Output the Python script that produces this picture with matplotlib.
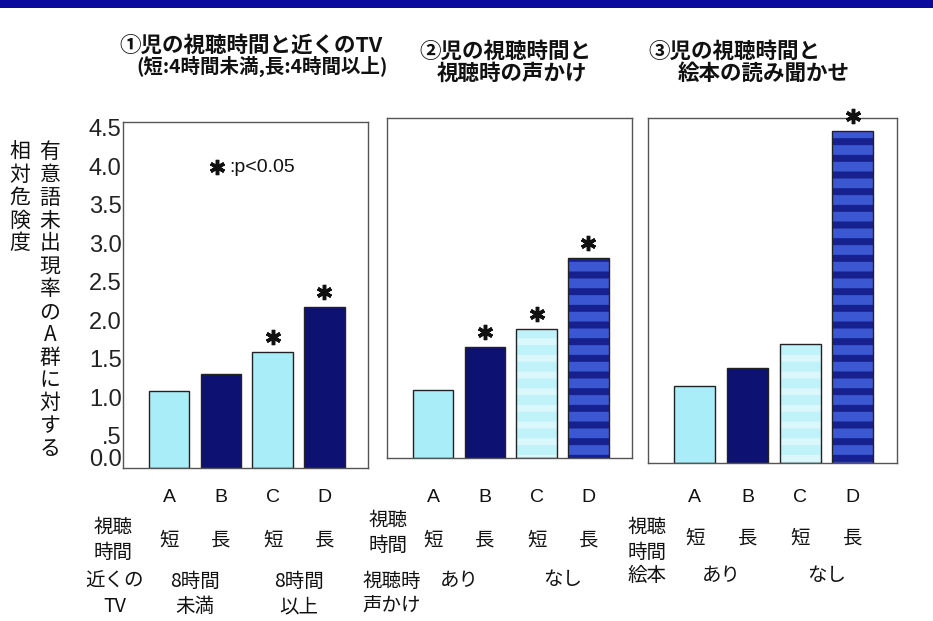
import matplotlib
matplotlib.use("Agg")
import matplotlib.pyplot as plt
from matplotlib import transforms
from matplotlib.patches import Rectangle

plt.rcParams['font.family'] = ['Noto Sans CJK JP', 'DejaVu Sans']
plt.rcParams['hatch.linewidth'] = 5.0

# ---------------- data ----------------
groups = ["A", "B", "C", "D"]
rr_tv = [1.00, 1.22, 1.51, 2.09]        # ① viewing time x nearby TV
rr_talk = [1.00, 1.63, 1.90, 2.94]      # ② viewing time x talking while viewing
rr_book = [1.00, 1.24, 1.55, 4.33]      # ③ viewing time x picture-book reading
sig_tv = [False, False, True, True]
sig_talk = [False, True, True, True]
sig_book = [False, False, False, True]
view_time = ["短", "長", "短", "長"]
titles = [("①児の視聴時間と近くのTV", "(短:4時間未満,長:4時間以上)"),
          ("②児の視聴時間と", "視聴時の声かけ"),
          ("③児の視聴時間と", "絵本の読み聞かせ")]
row1_head = "視聴\n時間"
row2_heads = ["近くの\nTV", "視聴時\n声かけ", "絵本"]
row2_tv = ["8時間\n未満", "8時間\n以上"]
row2_talk = ["あり", "なし"]
row2_book = ["あり", "なし"]
yticks = [0.0, 0.5, 1.0, 1.5, 2.0, 2.5, 3.0, 3.5, 4.0, 4.5]
ytick_labels = ["0.0", ".5", "1.0", "1.5", "2.0", "2.5", "3.0", "3.5", "4.0", "4.5"]
ylabel_outer = "相対危険度"
ylabel_inner = "有意語未出現率のA群に対する"
sig_note = ":p<0.05"

# ---------------- layout / style ----------------
W, H = 933, 621
fig = plt.figure(figsize=(W / 100, H / 100), dpi=100)
fig.patch.set_facecolor("white")

def fx(x):
    return x / W

def fy(y):
    return 1 - y / H

# top band
fig.patches.append(Rectangle((0, fy(8)), 1, 8 / H, transform=fig.transFigure,
                             facecolor="#0a0a9c", edgecolor="none", zorder=0))

LIGHT = "#a9edf8"
NAVY = "#0c1172"
PALE, PALE_H = "#c0f2f9", "#daf8fc"
BLUE, BLUE_H = "#3b58d2", "#16208e"
plain_style = [(LIGHT, None), (NAVY, None), (LIGHT, None), (NAVY, None)]
striped_style = [(LIGHT, None), (NAVY, None), (PALE, PALE_H), (BLUE, BLUE_H)]

panels = [
    dict(box=(123, 122, 368, 468), vals=rr_tv, sig=sig_tv, ymax=4.5, style=plain_style, pad=15),
    dict(box=(387, 118, 632, 458), vals=rr_talk, sig=sig_talk, ymax=5.0, style=striped_style, pad=22),
    dict(box=(648, 118, 897, 463), vals=rr_book, sig=sig_book, ymax=4.5, style=striped_style, pad=19),
]

axes = []
for i, p in enumerate(panels):
    l, t, r, b = p["box"]
    ax = fig.add_axes([fx(l), fy(b), (r - l) / W, (b - t) / H])
    axes.append(ax)
    x = list(range(len(groups)))
    fc = [s[0] for s in p["style"]]
    hc = [s[1] for s in p["style"]]
    for xi, v, f, h in zip(x, p["vals"], fc, hc):
        if h is None:
            ax.bar(xi, v, width=0.78, color=f, edgecolor="#222222", linewidth=1.0, zorder=2)
        else:
            ax.bar(xi, v, width=0.78, color=f, edgecolor=h, linewidth=0, hatch="-", zorder=2)
            ax.bar(xi, v, width=0.78, fill=False, edgecolor="#222222", linewidth=1.0, zorder=3)
    # significance asterisks
    star_tr = transforms.offset_copy(ax.transData, fig=fig, x=0, y=15, units="dots")
    sx = [xi for xi, s in zip(x, p["sig"]) if s]
    sy = [v for v, s in zip(p["vals"], p["sig"]) if s]
    ax.plot(sx, sy, linestyle="none", marker=(6, 2, 0), markersize=11, mew=2.5,
            color="#111111", transform=star_tr, clip_on=False, zorder=4)
    ax.set_xlim(-0.89, 3.84)
    ax.set_ylim(0, p["ymax"])
    for sp in ax.spines.values():
        sp.set_color("#555555")
        sp.set_linewidth(1.0)
    ax.set_xticks(x, groups)
    ax.tick_params(axis="x", length=0, pad=p["pad"], labelsize=14)
    for lab in ax.get_xticklabels():
        lab.set_family(["Liberation Sans", "DejaVu Sans"])
        lab.set_color("#111111")
    if i == 0:
        ax.set_yticks(yticks, ytick_labels)
        ax.tick_params(axis="y", length=0, pad=1, labelsize=17)
        for k, tick in enumerate(ax.yaxis.get_major_ticks()):
            lab = tick.label1
            lab.set_family(["Liberation Sans", "DejaVu Sans"])
            lab.set_color("#222222")
            dy = 11 if k == 0 else -6
            lab.set_transform(lab.get_transform() +
                              transforms.ScaledTranslation(0, dy / 100, fig.dpi_scale_trans))
    else:
        ax.set_yticks([])

    # viewing-time row (per bar)
    btr = transforms.blended_transform_factory(ax.transData, fig.transFigure)
    yrow1 = [540, 540, 538][i]
    for xi, s in zip(x, view_time):
        ax.text(xi, fy(yrow1), s, transform=btr, ha="center", va="center",
                fontsize=14, color="#111111", clip_on=False)

# legend note in panel 1
fig.add_artist(matplotlib.lines.Line2D([fx(217)], [fy(167)], transform=fig.transFigure,
                                       marker=(6, 2, 0), markersize=11, mew=2.5,
                                       color="#111111", linestyle="none"))
fig.text(fx(229), fy(167), sig_note, ha="left", va="center", fontsize=14,
         family=["Liberation Sans", "DejaVu Sans"], color="#111111")

# titles
title_pos = [((251, 45), (262, 66)), ((505, 51), (512, 73)), ((734, 51), (764, 73))]
for (t1, t2), ((x1, y1), (x2, y2)) in zip(titles, title_pos):
    fig.text(fx(x1), fy(y1), t1, ha="center", va="center", fontsize=15.5, fontweight="bold", color="#111111")
    fig.text(fx(x2), fy(y2), t2, ha="center", va="center",
             fontsize=14 if t2.startswith("(") else 15.5,
             fontweight="bold", color="#111111")

# y label (vertical writing)
fig.text(fx(20), fy(141), "\n".join(ylabel_outer), ha="center", va="top", fontsize=15,
         linespacing=1.05, color="#111111")
fig.text(fx(50), fy(141), "\n".join(ylabel_inner), ha="center", va="top", fontsize=15,
         linespacing=1.05, color="#111111")

# row headers
row1_x = [113, 388, 647]
row1_y = [540, 533, 540]
for xh, yh in zip(row1_x, row1_y):
    fig.text(fx(xh), fy(yh), row1_head, ha="center", va="center", fontsize=14,
             linespacing=1.25, color="#111111")
row2_x = [115, 392, 647]
row2_y = [594, 594, 575]
for s, xh, yh in zip(row2_heads, row2_x, row2_y):
    fig.text(fx(xh), fy(yh), s, ha="center", va="center", fontsize=14,
             linespacing=1.25, color="#111111", family=["Noto Sans CJK JP", "DejaVu Sans"])

# second-row values (span two bars each)
row2_vals = [row2_tv, row2_talk, row2_book]
row2_vy = [594, 580, 575]
for ax, vals, yv in zip(axes, row2_vals, row2_vy):
    btr = transforms.blended_transform_factory(ax.transData, fig.transFigure)
    for j, s in enumerate(vals):
        ax.text(2 * j + 0.5, fy(yv), s, transform=btr, ha="center", va="center",
                fontsize=14, linespacing=1.25, color="#111111", clip_on=False)

fig.savefig("out.png", dpi=100, facecolor="white")
